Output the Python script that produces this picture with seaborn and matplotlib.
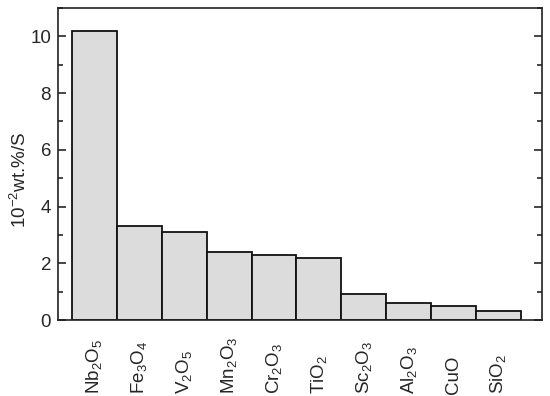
import matplotlib
matplotlib.use("Agg")
import matplotlib.pyplot as plt
from matplotlib.ticker import MultipleLocator
import pandas as pd
import seaborn as sns

# data
oxides = ["Nb2O5", "Fe3O4", "V2O5", "Mn2O3", "Cr2O3", "TiO2",
          "Sc2O3", "Al2O3", "CuO", "SiO2"]
values = [10.2, 3.3, 3.1, 2.4, 2.3, 2.2, 0.9, 0.6, 0.5, 0.3]
tick_labels = [r"Nb$_2$O$_5$", r"Fe$_3$O$_4$", r"V$_2$O$_5$", r"Mn$_2$O$_3$",
               r"Cr$_2$O$_3$", r"TiO$_2$", r"Sc$_2$O$_3$", r"Al$_2$O$_3$",
               r"CuO", r"SiO$_2$"]

sns.set_style("ticks")
plt.rcParams["font.family"] = ["Liberation Sans", "DejaVu Sans"]
plt.rcParams["mathtext.default"] = "regular"

df = pd.DataFrame({"oxide": oxides, "value": values})

fig = plt.figure(figsize=(5.5, 3.96), dpi=100)
ax = fig.add_axes([0.1055, 0.1919, 0.88, 0.788])

sns.barplot(data=df, x="oxide", y="value", color="#dcdcdc", saturation=1,
            edgecolor="#111111", linewidth=1.3, width=1.0, ax=ax)

ax.set_xlim(-0.81, 9.97)
ax.set_ylim(0, 11)
ax.yaxis.set_major_locator(MultipleLocator(2))
ax.yaxis.set_minor_locator(MultipleLocator(1))
ax.set_xticks(range(len(oxides)))
ax.set_xticklabels(tick_labels, rotation=90, fontsize=13.5)
ax.tick_params(axis="x", length=0, pad=53)
# labels sit on a common baseline near the bottom of the figure
for lab in ax.get_xticklabels():
    lab.set_verticalalignment("bottom")
ax.tick_params(axis="y", which="major", direction="in", length=5.5, width=1.2,
               right=True, labelsize=13.5, pad=5)
ax.tick_params(axis="y", which="minor", direction="in", length=3.5, width=1.2,
               right=True)

for s in ax.spines.values():
    s.set_visible(True)
    s.set_linewidth(1.2)
    s.set_color("#222222")

ax.set_xlabel("")
ax.set_ylabel(r"10$^{-2}$wt.%/S", fontsize=13.5)
ax.yaxis.set_label_coords(-0.058, 0.45)

fig.savefig("out.png", dpi=100)
